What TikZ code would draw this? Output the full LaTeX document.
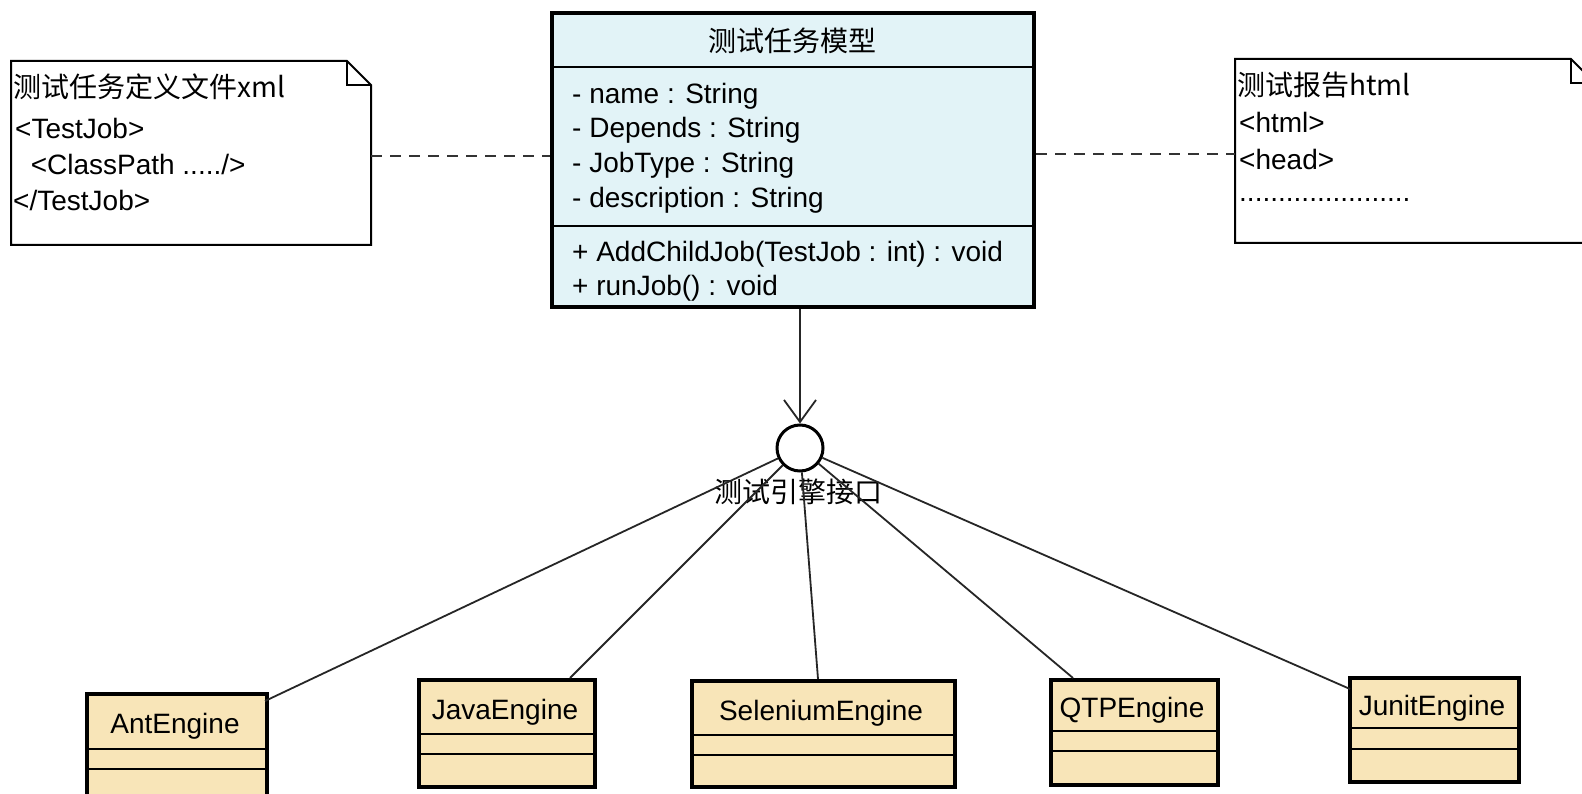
\documentclass[tikz,border=0pt]{standalone}
\usepackage{fontspec}
\setmainfont{Liberation Sans}
\newfontfamily\cjk{Noto Sans CJK SC}
\usetikzlibrary{arrows.meta,calc}
\definecolor{clsfill}{HTML}{E2F3F7}
\definecolor{engfill}{HTML}{F8E5B8}
\tikzset{
  txt/.style={anchor=west,inner sep=0pt,font=\fontsize{28}{32}\selectfont},
  ctxt/.style={inner sep=0pt,font=\fontsize{28}{32}\selectfont},
  clsbox/.style={draw=black,line width=4pt,fill=clsfill,anchor=north west,inner sep=0pt},
  engbox/.style={draw=black,line width=4pt,fill=engfill,anchor=north west,inner sep=0pt},
  sepline/.style={line width=2pt},
  notebox/.style={draw=black,line width=2pt,fill=white},
  dep/.style={line width=2pt,dash pattern=on 11pt off 8pt,draw=black!80},
  conn/.style={line width=1.8pt,draw=black!85},
}
\begin{document}
\begin{tikzpicture}[x=1pt,y=-1pt]
\useasboundingbox (0,0) rectangle (1582,794);
\fill[white] (0,0) rectangle (1582,794);
\begin{scope}
\clip (0,0) rectangle (1582,794);
% main class
\node[clsbox,minimum width=482pt,minimum height=294pt] (cls) at (550,11) {};
\draw[sepline] (550,67) -- (1032,67);
\draw[sepline] (550,226) -- (1032,226);
\node[ctxt] (title) at (792,41) {\cjk 测试任务模型};
\node[txt] (a1) at (572,96) {- name : String};
\node[txt] (a2) at (572,130) {- Depends : String};
\node[txt] (a3) at (572,165) {- JobType : String};
\node[txt] (a4) at (572,200) {- description : String};
\node[txt] (m1) at (572,254) {+ AddChildJob(TestJob : int) : void};
\node[txt] (m2) at (572,288) {+ runJob() : void};
% left note
\draw[notebox] (11,61) -- (347,61) -- (371,85) -- (371,245) -- (11,245) -- cycle;
\draw[line width=2pt] (347,61) -- (347,85) -- (371,85);
\coordinate (lnr) at (371,156);
\node[txt] (l1) at (13,87) {\cjk 测试任务定义文件xml};
\node[txt] (l2) at (15,128) {<TestJob>};
\node[txt] (l3) at (15,164) {\ \ <ClassPath ...../>};
\node[txt] (l4) at (13,200) {</TestJob>};
% right note
\draw[notebox] (1235,59) -- (1571,59) -- (1595,83) -- (1595,243) -- (1235,243) -- cycle;
\draw[line width=2pt] (1571,59) -- (1571,83) -- (1595,83);
\coordinate (rnl) at (1235,154);
\node[txt] (r1) at (1237,85) {\cjk 测试报告html};
\node[txt] (r2) at (1239,122) {<html>};
\node[txt] (r3) at (1239,159) {<head>};
\node[txt] (r4) at (1239,200) {......................};
% dependencies
\draw[dep] (lnr) -- (lnr -| cls.west);
\draw[dep] (cls.east |- rnl) -- (rnl);
% interface
\node[circle,draw=black,line width=3pt,fill=white,minimum size=46pt,inner sep=0pt] (iface) at (800,448) {};
\node[ctxt,anchor=north] (ilabel) at (798,479) {\cjk 测试引擎接口};
\draw[conn,-{Straight Barb[length=22pt,width=32pt,line width=1.8pt]}] (cls.south -| iface) -- (iface.north);
% engines
\node[engbox,minimum width=180pt,minimum height=125pt] (ant) at (85,692) {};
\draw[sepline] (85,749) -- (265,749); \draw[sepline] (85,769) -- (265,769);
\node[ctxt] at (175,726) {AntEngine};
\node[engbox,minimum width=176pt,minimum height=107pt] (java) at (417,678) {};
\draw[sepline] (417,734) -- (593,734); \draw[sepline] (417,754) -- (593,754);
\node[ctxt] at (505,712) {JavaEngine};
\node[engbox,minimum width=263pt,minimum height=106pt] (sel) at (690,679) {};
\draw[sepline] (690,735) -- (953,735); \draw[sepline] (690,755) -- (953,755);
\node[ctxt] at (821,713) {SeleniumEngine};
\node[engbox,minimum width=167pt,minimum height=105pt] (qtp) at (1049,678) {};
\draw[sepline] (1049,731) -- (1216,731); \draw[sepline] (1049,751) -- (1216,751);
\node[ctxt] at (1132,710) {QTPEngine};
\node[engbox,minimum width=169pt,minimum height=104pt] (jun) at (1348,676) {};
\draw[sepline] (1348,728) -- (1517,728); \draw[sepline] (1348,749) -- (1517,749);
\node[ctxt] at (1432,708) {JunitEngine};
% realizations
\coordinate (pant) at (265,701);
\coordinate (pjava) at (570,678);
\coordinate (psel) at (818,679);
\coordinate (pqtp) at (1073,678);
\coordinate (pjun) at (1350,689);
\draw[conn] (iface) -- (pant);
\draw[conn] (iface) -- (pjava);
\draw[conn] (iface) -- (psel);
\draw[conn] (iface) -- (pqtp);
\draw[conn] (iface) -- (pjun);
\end{scope}
\end{tikzpicture}
\end{document}
